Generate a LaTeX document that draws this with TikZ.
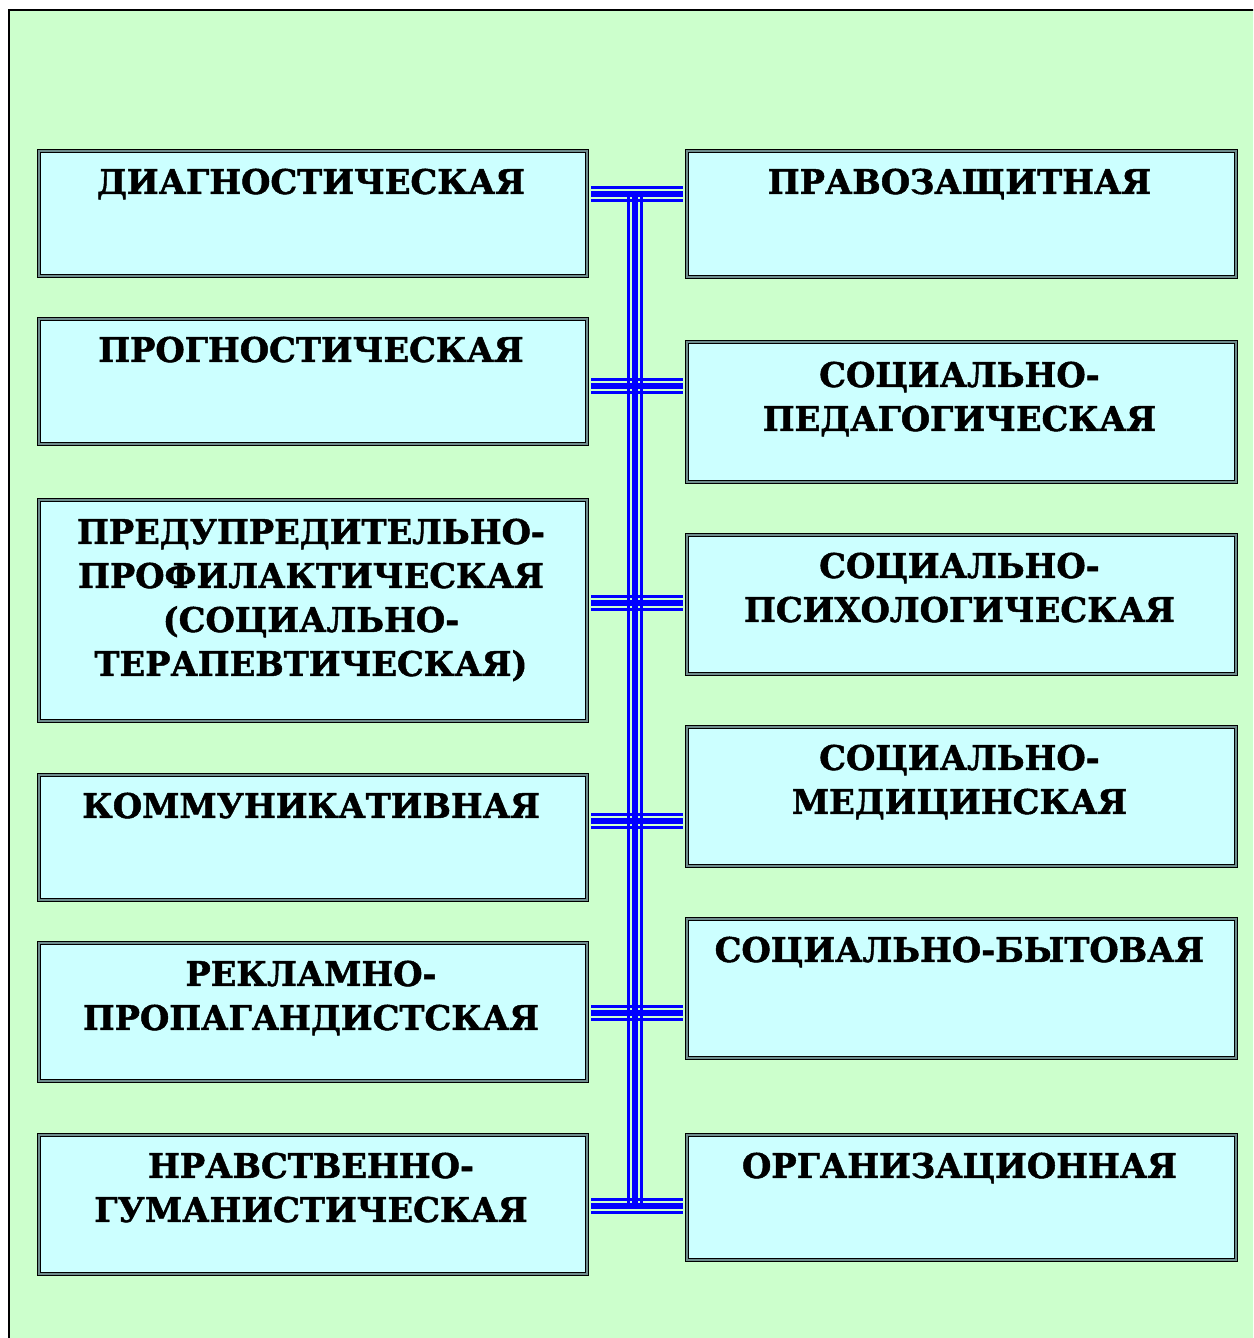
\documentclass[tikz,border=0pt]{standalone}
\usepackage{fontspec}
\setmainfont{DejaVu Serif}[BoldFeatures={FakeStretch=0.99,FakeBold=1.4}]
\definecolor{panel}{RGB}{204,255,204}
\definecolor{boxc}{RGB}{204,255,255}
\definecolor{framegray}{RGB}{110,140,140}
\definecolor{connb}{RGB}{0,0,255}
\begin{document}
\begin{tikzpicture}[x=1pt,y=-1pt,
  fbox/.style={draw=black, line width=4pt, fill=boxc, inner sep=0pt, anchor=north west,
    postaction={draw=framegray, line width=1.3pt}},
  lbl/.style={anchor=north, inner sep=0pt, align=center,
    font=\fontsize{34}{44}\selectfont\bfseries},
  conn/.style={draw=connb, line cap=butt, shorten <=2pt, shorten >=2pt}
  ]
\useasboundingbox (0,0) rectangle (1253,1338);
\fill[white] (0,0) rectangle (1253,1338);
\begin{scope}
\clip (0,0) rectangle (1253,1338);
\fill[panel] (9,10) rectangle (1270,1360);
\draw[line width=2pt] (9,1360) -- (9,10) -- (1270,10);
\end{scope}

% left boxes (outer edges: x 35..587)
\node[fbox, minimum width=548pt, minimum height=125pt] (L1) at (37,149) {};
\node[fbox, minimum width=548pt, minimum height=125pt] (L2) at (37,317) {};
\node[fbox, minimum width=548pt, minimum height=221pt] (L3) at (37,498) {};
\node[fbox, minimum width=548pt, minimum height=125pt] (L4) at (37,773) {};
\node[fbox, minimum width=548pt, minimum height=138pt] (L5) at (37,941) {};
\node[fbox, minimum width=548pt, minimum height=139pt] (L6) at (37,1133) {};
% right boxes (outer edges: x 683..1236)
\node[fbox, minimum width=549pt, minimum height=126pt] (R1) at (685,149) {};
\node[fbox, minimum width=549pt, minimum height=140pt] (R2) at (685,340) {};
\node[fbox, minimum width=549pt, minimum height=139pt] (R3) at (685,533) {};
\node[fbox, minimum width=549pt, minimum height=139pt] (R4) at (685,725) {};
\node[fbox, minimum width=549pt, minimum height=139pt] (R5) at (685,917) {};
\node[fbox, minimum width=549pt, minimum height=125pt] (R6) at (685,1133) {};

% labels
\node[lbl] (tL1) at ([xshift=-2pt,yshift=-19.5pt]L1.north) {ДИАГНОСТИЧЕСКАЯ};
\node[lbl] (tL2) at ([xshift=-2pt,yshift=-19.5pt]L2.north) {ПРОГНОСТИЧЕСКАЯ};
\node[lbl] (tL3) at ([xshift=-2pt,yshift=-20.5pt]L3.north) {ПРЕДУПРЕДИТЕЛЬНО-\\ПРОФИЛАКТИЧЕСКАЯ\\(СОЦИАЛЬНО-\\ТЕРАПЕВТИЧЕСКАЯ)};
\node[lbl] (tL4) at ([xshift=-2pt,yshift=-19.5pt]L4.north) {КОММУНИКАТИВНАЯ};
\node[lbl] (tL5) at ([xshift=-2pt,yshift=-19.5pt]L5.north) {РЕКЛАМНО-\\ПРОПАГАНДИСТСКАЯ};
\node[lbl] (tL6) at ([xshift=-2pt,yshift=-19.5pt]L6.north) {НРАВСТВЕННО-\\ГУМАНИСТИЧЕСКАЯ};
\node[lbl] (tR1) at ([xshift=-2pt,yshift=-19.5pt]R1.north) {ПРАВОЗАЩИТНАЯ};
\node[lbl] (tR2) at ([xshift=-2pt,yshift=-21.5pt]R2.north) {СОЦИАЛЬНО-\\ПЕДАГОГИЧЕСКАЯ};
\node[lbl] (tR3) at ([xshift=-2pt,yshift=-19.5pt]R3.north) {СОЦИАЛЬНО-\\ПСИХОЛОГИЧЕСКАЯ};
\node[lbl] (tR4) at ([xshift=-2pt,yshift=-19.5pt]R4.north) {СОЦИАЛЬНО-\\МЕДИЦИНСКАЯ};
\node[lbl] (tR5) at ([xshift=-2pt,yshift=-19.5pt]R5.north) {СОЦИАЛЬНО-БЫТОВАЯ};
\node[lbl] (tR6) at ([xshift=-2pt,yshift=-19.5pt]R6.north) {ОРГАНИЗАЦИОННАЯ};

% connector rows
\coordinate (h1) at (635,194);
\coordinate (h2) at (635,386);
\coordinate (h3) at (635,603);
\coordinate (h4) at (635,821);
\coordinate (h5) at (635,1013);
\coordinate (h6) at (635,1206);
\foreach \i in {1,...,6}{
  \coordinate (a\i) at (L\i.east |- h\i);
  \coordinate (b\i) at (R\i.west |- h\i);
}
% trunk
\foreach \o/\w in {-6.5/3.2,0/5.2,6.5/3.2}
  \draw[draw=connb, line width=\w pt] ([xshift=\o pt]h1) -- ([xshift=\o pt]h6);
% branches
\foreach \i in {1,...,6}{
  \foreach \o/\w in {-6.5/3.2,0/5.2,6.5/3.2}
    \draw[conn, line width=\w pt] ([yshift=\o pt]a\i) -- ([yshift=\o pt]b\i);
}
\end{tikzpicture}
\end{document}
